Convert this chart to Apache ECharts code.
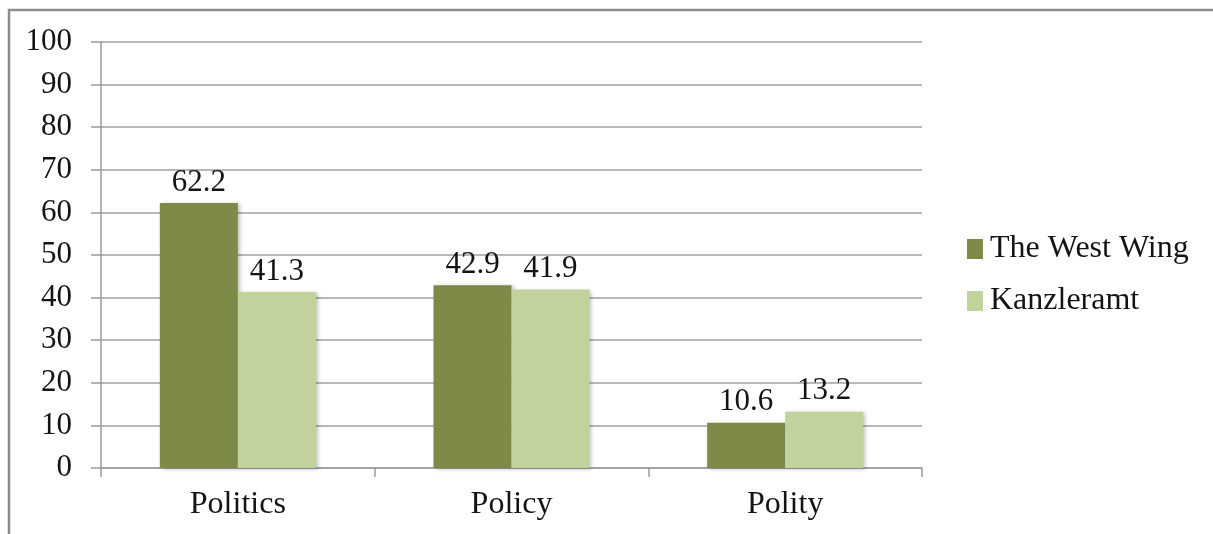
<!DOCTYPE html>
<html>
<head>
<meta charset="utf-8">
<script src="https://cdn.jsdelivr.net/npm/echarts@6/dist/echarts.min.js"></script>
<style>
html,body{margin:0;padding:0;background:#fff;}
#chart{width:1213px;height:534px;}
</style>
</head>
<body>
<div id="chart"></div>
<script>
const categories = ['Politics', 'Policy', 'Polity'];
const westWing = [62.2, 42.9, 10.6];
const kanzleramt = [41.3, 41.9, 13.2];
const seriesNames = ['The West Wing', 'Kanzleramt'];

const font = '"Liberation Serif", "Times New Roman", serif';
const txt = '#141414';
const chart = echarts.init(document.getElementById('chart'), null, {renderer: 'canvas'});
const barShadow = {shadowColor: 'rgba(0,0,0,0.25)', shadowBlur: 4, shadowOffsetX: 2, shadowOffsetY: 1};
chart.setOption({
  animation: false,
  backgroundColor: '#fff',
  graphic: [{
    type: 'rect', silent: true,
    shape: {x: 9, y: 10, width: 1400, height: 700},
    style: {fill: 'none', stroke: '#8c8c8c', lineWidth: 2.5}
  }],
  grid: {left: 101, right: 291, top: 42, bottom: 66},
  legend: {
    orient: 'vertical',
    left: 967, top: 233, padding: 0,
    itemWidth: 16, itemHeight: 20, itemGap: 20,
    icon: 'rect',
    textStyle: {fontFamily: font, fontSize: 32, lineHeight: 30, color: txt, padding: [0, 0, 0, 2]},
    data: seriesNames
  },
  xAxis: {
    type: 'category',
    data: categories,
    axisLine: {lineStyle: {color: '#9a9a9a', width: 1.5}},
    axisTick: {show: true, length: 9, lineStyle: {color: '#9a9a9a', width: 1.5}},
    axisLabel: {fontFamily: font, fontSize: 32, color: txt, margin: 21}
  },
  yAxis: {
    type: 'value', min: 0, max: 100, interval: 10,
    axisLine: {show: true, lineStyle: {color: '#9a9a9a', width: 1.5}},
    axisTick: {show: true, length: 10, lineStyle: {color: '#9a9a9a', width: 1.5}},
    splitLine: {lineStyle: {color: '#a0a0a0', width: 1.5}},
    axisLabel: {fontFamily: font, fontSize: 31, color: txt, margin: 29}
  },
  series: [
    {
      name: seriesNames[0], type: 'bar', data: westWing,
      barGap: '0%', barCategoryGap: '43%',
      itemStyle: Object.assign({color: '#7e8b48'}, barShadow),
      label: {show: true, position: 'top', distance: 5, fontFamily: font, fontSize: 31, color: txt}
    },
    {
      name: seriesNames[1], type: 'bar', data: kanzleramt,
      itemStyle: Object.assign({color: '#c2d29c'}, barShadow),
      label: {show: true, position: 'top', distance: 5, fontFamily: font, fontSize: 31, color: txt}
    }
  ]
});
</script>
</body>
</html>
